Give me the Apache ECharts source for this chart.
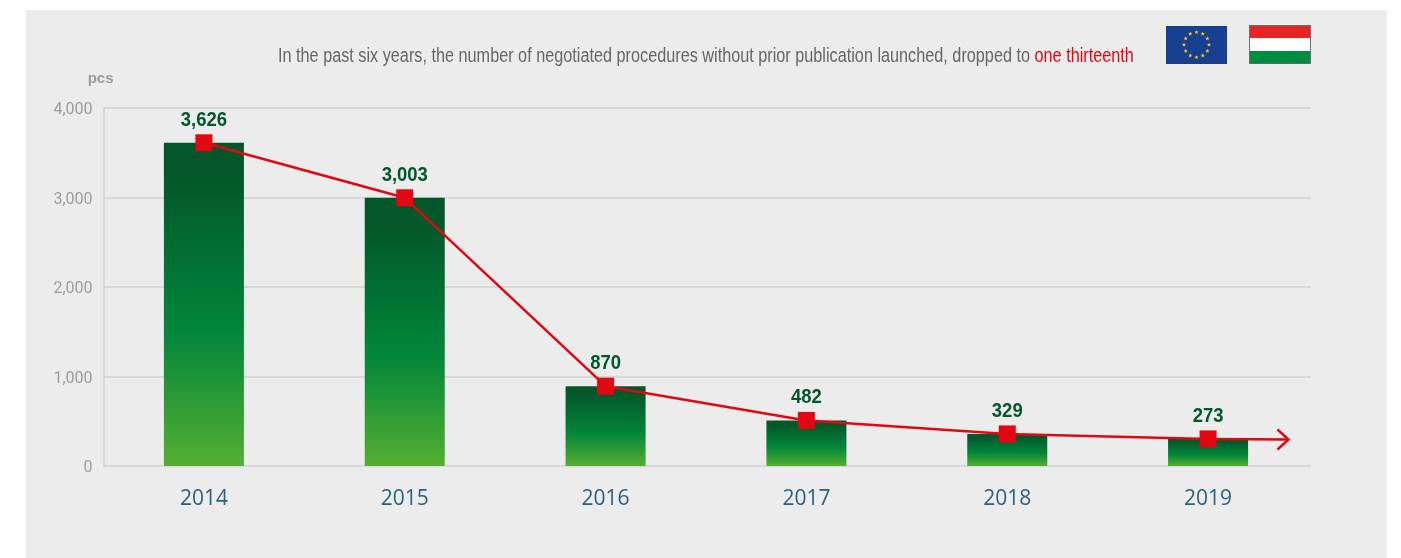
<!DOCTYPE html>
<html><head><meta charset="utf-8">
<style>html,body{margin:0;padding:0;background:#fff}#c{width:1401px;height:558px}</style>
<script src="https://cdn.jsdelivr.net/npm/echarts@6/dist/echarts.min.js"></script>
</head><body><div id="c"></div>
<script>
const categories = ['2014','2015','2016','2017','2018','2019'];
const procedures = [3626,3003,870,482,329,273];
const titleMain = 'In the past six years, the number of negotiated procedures without prior publication launched, dropped to ';
const titleRed = 'one thirteenth';
const unit = 'pcs';
const axisMax = 4000, axisStep = 1000;

const sans = '"Liberation Sans",Arial,sans-serif';
const fmt = v => Number(v).toLocaleString('en-US');
const barFill = {type:'linear',x:0,y:0,x2:0,y2:1,colorStops:[
  {offset:0,color:'#03562a'},{offset:.12,color:'#03592a'},{offset:.58,color:'#00863a'},{offset:1,color:'#55af32'}]};

// EU flag stars
const star = (cx,cy,r)=>{const p=[];for(let i=0;i<10;i++){const a=-Math.PI/2+i*Math.PI/5,q=i%2?r*.42:r;p.push([cx+q*Math.cos(a),cy+q*Math.sin(a)]);}
  return {type:'polygon',shape:{points:p},style:{fill:'#f6c90e'},silent:true};};
const stars=[];for(let i=0;i<12;i++){const a=i*Math.PI/6;stars.push(star(1196.5+12.5*Math.sin(a),44.7-12.5*Math.cos(a),2.3));}

// condensed value labels, placed through the axes' scales
const valueLabel = (params, api) => {
  const pt = api.coord([api.value(0), api.value(1)]);
  return {type:'text', x:pt[0], y:pt[1]-23, scaleX:.88, silent:true,
    style:{text:fmt(api.value(1)), align:'center', verticalAlign:'middle',
      fontFamily:sans, fontWeight:'bold', fontSize:21, fill:'#03582b'}};
};

const chart = echarts.init(document.getElementById('c'),null,{renderer:'canvas'});
chart.setOption({
  animation:false,
  backgroundColor:'#ffffff',
  grid:[
    {left:103.5,top:108,width:1205,height:358},
    {left:103.5,top:108,width:1207.5,height:358}
  ],
  xAxis:[
    {type:'category',gridIndex:0,data:categories,
     axisLine:{show:false},axisTick:{show:false},
     axisLabel:{margin:23,fontFamily:'"Open Sans",sans-serif',fontSize:21,color:'#2c6083'}},
    {type:'value',gridIndex:1,min:0,max:1,show:false}
  ],
  yAxis:[
    {type:'value',gridIndex:0,min:-34,max:4020,startValue:-34,show:false,splitLine:{show:false}},
    {type:'value',gridIndex:1,min:0,max:axisMax,interval:axisStep,position:'left',
     name:unit,nameLocation:'end',nameGap:22,
     nameTextStyle:{fontFamily:sans,fontWeight:'bold',fontSize:15,color:'#9d9d9c',align:'right',padding:[0,-10,0,0]},
     axisLine:{show:true,lineStyle:{color:'#d2d2d2',width:1.5}},axisTick:{show:false},
     axisLabel:{margin:11,formatter:v=>'{t|'+fmt(v)+'}',
       rich:{t:{padding:[4,0,0,0],fontFamily:'Roboto,sans-serif',fontSize:16,color:'#9d9d9c'}}},
     splitLine:{show:true,lineStyle:{color:'#d2d2d2',width:1.5}}}
  ],
  series:[
    {type:'bar',xAxisIndex:0,yAxisIndex:0,data:procedures,barWidth:80,itemStyle:{color:barFill}},
    {type:'line',xAxisIndex:0,yAxisIndex:0,data:procedures,z:5,
     symbol:'rect',symbolSize:17,
     itemStyle:{color:'#e30613'},lineStyle:{color:'#e30613',width:2.5},
     markLine:{silent:true,symbol:'none',label:{show:false},
       lineStyle:{color:'#e30613',width:2.5,type:'solid'},
       data:[[{xAxis:5,yAxis:procedures[5]},{x:1289,y:439.5}]]}},
    {type:'custom',xAxisIndex:0,yAxisIndex:0,z:6,
     data:procedures.map((v,i)=>[i,v]),renderItem:valueLabel,clip:false}
  ],
  graphic:[
    {type:'rect',z:-10,silent:true,shape:{x:26,y:10,width:1361,height:548},style:{fill:'#ececec'}},
    {type:'text',silent:true,x:278,y:56,scaleX:.812,
     style:{text:'{a|'+titleMain+'}{b|'+titleRed+'}',verticalAlign:'middle',
       rich:{a:{fontFamily:sans,fontSize:20,fill:'#666665'},b:{fontFamily:sans,fontSize:20,fill:'#e30613'}}}},
    {type:'polyline',z:10,silent:true,shape:{points:[[1277.5,429.5],[1288.5,439.5],[1277.5,449.5]]},style:{stroke:'#e30613',lineWidth:2.5,fill:null}},
    {type:'rect',silent:true,shape:{x:1166,y:26,width:61,height:38},style:{fill:'#173f8f'}},
    ...stars,
    {type:'rect',silent:true,shape:{x:1249,y:25,width:62,height:39},style:{fill:'#6e6e6e'}},
    {type:'rect',silent:true,shape:{x:1250,y:26,width:60,height:12.3},style:{fill:'#e52521'}},
    {type:'rect',silent:true,shape:{x:1250,y:38,width:60,height:13},style:{fill:'#ffffff'}},
    {type:'rect',silent:true,shape:{x:1250,y:51,width:60,height:12.3},style:{fill:'#008d41'}}
  ]
});
</script></body></html>
